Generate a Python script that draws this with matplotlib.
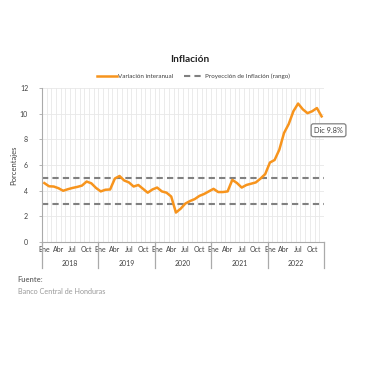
import numpy as np
import matplotlib.pyplot as plt
import matplotlib as mpl
import matplotlib.transforms as mtransforms

mpl.rcParams.update({
    "font.family": ["Lato", "DejaVu Sans"],
    "figure.facecolor": "white",
})

# Inflacion interanual mensual (%), Ene 2018 - Dic 2022
YEARS = ["2018", "2019", "2020", "2021", "2022"]
MONTH_TICKS = ["Ene", "Abr", "Jul", "Oct"]
INFL = [
    4.60, 4.35, 4.33, 4.20, 4.00, 4.12, 4.22, 4.30, 4.40, 4.72, 4.58, 4.22,   # 2018
    3.95, 4.08, 4.10, 4.95, 5.15, 4.80, 4.65, 4.33, 4.45, 4.15, 3.85, 4.10,   # 2019
    4.25, 3.95, 3.85, 3.55, 2.30, 2.60, 3.00, 3.20, 3.35, 3.60, 3.75, 3.95,   # 2020
    4.15, 3.90, 3.90, 3.95, 4.85, 4.60, 4.25, 4.45, 4.55, 4.65, 4.95, 5.30,   # 2021
    6.20, 6.40, 7.20, 8.50, 9.20, 10.20, 10.80, 10.35, 10.05, 10.20, 10.45, 9.80,  # 2022
]
RANGO_SUP = 5.0
RANGO_INF = 3.0
LAST_LABEL = "Dic 9.8%"

ORANGE = "#F7941D"
GRAY = "#808080"
TXT = "#404040"

n = len(INFL)
xs = np.arange(n)

fig = plt.figure(figsize=(3.8, 3.8), dpi=100)
ax = fig.add_axes([0.1105, 0.363, 0.742, 0.405])

# grid
for b in np.arange(-0.5, n, 1.0):
    ax.axvline(b, color="#e8e8e8", lw=0.6, zorder=0)
for yv in range(2, 13, 2):
    ax.axhline(yv, color="#e8e8e8", lw=0.6, zorder=0)

l1, = ax.plot(xs, INFL, color=ORANGE, lw=1.8, solid_joinstyle="round",
              label="Variación interanual", zorder=3)
l2 = ax.axhline(RANGO_SUP, color=GRAY, lw=1.5, ls=(0, (3, 2)),
                label="Proyección de Inflación (rango)", zorder=2)
ax.axhline(RANGO_INF, color=GRAY, lw=1.5, ls=(0, (3, 2)), zorder=2)

ax.set_xlim(-0.5, n - 0.5)
ax.set_ylim(0, 12)
ax.set_yticks(range(0, 13, 2))
ax.tick_params(axis="y", labelsize=5, colors=TXT, length=2, width=0.6, pad=8)
ax.tick_params(axis="y", color="#aaaaaa")

tick_pos = [y * 12 + m for y in range(len(YEARS)) for m in (0, 3, 6, 9)]
tick_lab = MONTH_TICKS * len(YEARS)
ax.set_xticks(tick_pos)
ax.set_xticklabels(tick_lab, fontsize=5, color=TXT)
ax.tick_params(axis="x", length=0, pad=3)

for s in ["top", "right"]:
    ax.spines[s].set_visible(False)
ax.spines["left"].set_color("#aaaaaa")
ax.spines["bottom"].set_color("#aaaaaa")
ax.spines["left"].set_linewidth(0.8)
ax.spines["bottom"].set_linewidth(0.8)

ax.set_ylabel("Porcentajes", fontsize=5.5, color=TXT, labelpad=2)

# year separators and labels
trans = mtransforms.blended_transform_factory(ax.transData, ax.transAxes)
for k in range(len(YEARS) + 1):
    ax.plot([k * 12 - 0.5] * 2, [0, -0.17], transform=trans, color="#aaaaaa",
            lw=0.9, clip_on=False)
for k, yr in enumerate(YEARS):
    ax.text(k * 12 + 5.5, -0.14, yr, transform=trans, ha="center", va="center",
            fontsize=5, color=TXT)

# last value annotation
ax.annotate(LAST_LABEL, xy=(xs[-1], INFL[-1]), xytext=(5, -10),
            textcoords="offset points", ha="center", va="center",
            fontsize=5.3, color=TXT, annotation_clip=False,
            bbox=dict(boxstyle="round,pad=0.4,rounding_size=0.3",
                      fc="white", ec=GRAY, lw=0.9))

fig.text(0.5, 0.843, "Inflación", ha="center", va="center",
         fontsize=7.3, weight="bold", color="#222222")
fig.legend(handles=[l1, l2], loc="center", bbox_to_anchor=(0.509, 0.8),
           ncol=2, frameon=False, fontsize=4.5, handlelength=3.2,
           handletextpad=0.2, columnspacing=1.6, labelcolor=TXT)

fig.text(0.047, 0.265, "Fuente:", fontsize=5.5, weight="bold", color="#777777",
         va="center")
fig.text(0.047, 0.232, "Banco Central de Honduras", fontsize=5.2,
         color="#999999", va="center")

fig.savefig("out.png", dpi=100, facecolor="white")
